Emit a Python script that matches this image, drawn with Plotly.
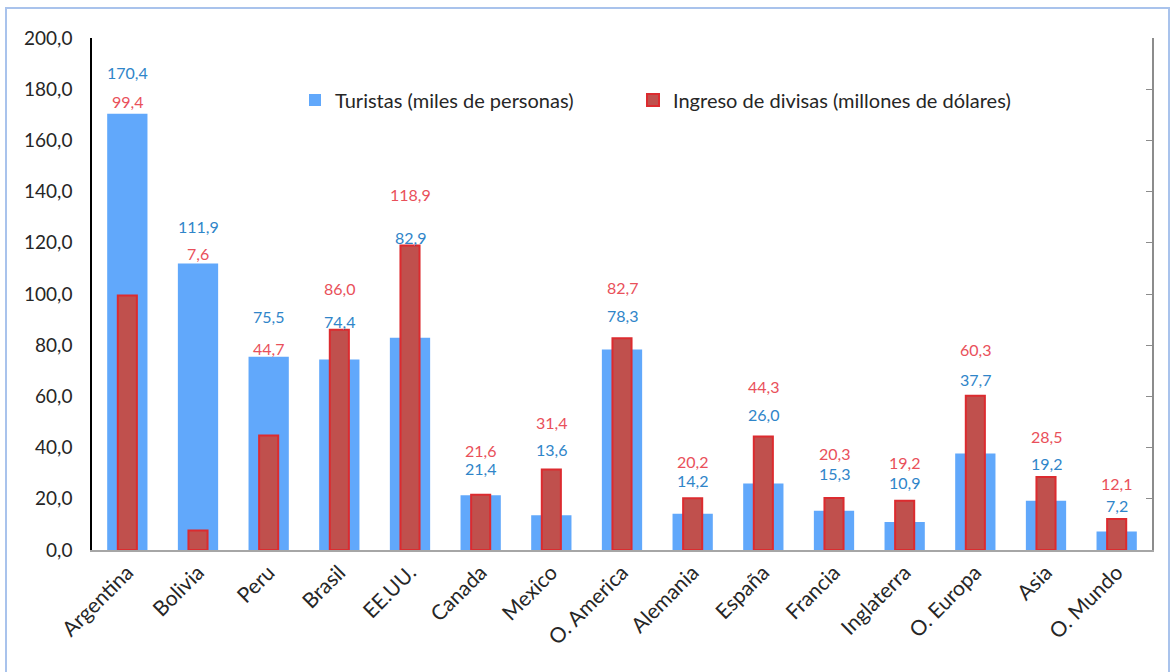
import plotly.graph_objects as go

categories = ["Argentina", "Bolivia", "Peru", "Brasil", "EE.UU.", "Canada", "Mexico",
              "O. America", "Alemania", "España", "Francia", "Inglaterra", "O. Europa",
              "Asia", "O. Mundo"]
turistas = [170.4, 111.9, 75.5, 74.4, 82.9, 21.4, 13.6, 78.3, 14.2, 26.0, 15.3, 10.9, 37.7, 19.2, 7.2]
divisas = [99.4, 7.6, 44.7, 86.0, 118.9, 21.6, 31.4, 82.7, 20.2, 44.3, 20.3, 19.2, 60.3, 28.5, 12.1]

# label placement (pixels above the taller bar of each category)
shift_upper = [41, 37, 40, 41, 51, 44, 47, 51, 37, 50, 45, 38, 46, 41, 36]
shift_lower = [12, 10, 8, 8, 8, 26, 20, 23, 18, 22, 25, 18, 16, 14, 14]

BLUE = "#61a8fb"
RED_FILL = "#c0504d"
RED_LINE = "#dc2b2f"
BLUE_TXT = "#2f85c9"
RED_TXT = "#e9505a"
FONT = "Lato"
TXT = "#262626"

fig = go.Figure()
fig.add_trace(go.Bar(
    x=categories, y=turistas, name="Turistas (miles de personas)",
    marker=dict(color=BLUE, line=dict(width=0)), width=0.57, legend="legend",
))
fig.add_trace(go.Bar(
    x=categories, y=divisas, name="Ingreso de divisas (millones de dólares)",
    marker=dict(color=RED_FILL, line=dict(color=RED_LINE, width=2)), width=0.27,
    legend="legend2",
))
# invisible trace to activate the right axis
fig.add_trace(go.Scatter(x=[categories[0]], y=[0], yaxis="y2", mode="markers",
                         marker=dict(opacity=0), showlegend=False, hoverinfo="skip"))

annotations = []
for i, c in enumerate(categories):
    t, d = turistas[i], divisas[i]
    top = max(t, d)
    if t >= d:
        up_val, up_col, lo_val, lo_col = t, BLUE_TXT, d, RED_TXT
    else:
        up_val, up_col, lo_val, lo_col = d, RED_TXT, t, BLUE_TXT
    for val, col, sh in ((up_val, up_col, shift_upper[i]), (lo_val, lo_col, shift_lower[i])):
        annotations.append(dict(
            x=c, y=top, xref="x", yref="y", text=f"{val:.1f}".replace(".", ","),
            showarrow=False, yshift=sh, yanchor="middle", xanchor="center",
            font=dict(family=FONT, size=16, color=col),
        ))

legend_common = dict(
    orientation="h", xanchor="left", y=(550 - 100) / 512, yanchor="middle",
    bgcolor="rgba(0,0,0,0)", font=dict(family=FONT, size=20, color=TXT), itemwidth=30,
)

fig.update_layout(
    width=1171, height=672,
    paper_bgcolor="white", plot_bgcolor="white",
    margin=dict(l=92, r=19, t=38, b=122),
    barmode="overlay",
    separators=",.",
    font=dict(family=FONT, size=19, color=TXT),
    showlegend=True,
    legend=dict(x=(295 - 92) / 1060, **legend_common),
    legend2=dict(x=(633 - 92) / 1060, **legend_common),
    xaxis=dict(
        range=[-0.5, len(categories) - 0.5], automargin=False,
        showgrid=False, showline=True, linecolor="#a6a6a6", linewidth=2,
        tickangle=-45, ticks="", tickfont=dict(family=FONT, size=21, color=TXT),
    ),
    yaxis=dict(
        range=[0, 200], dtick=20, tickformat=".1f", showgrid=False, zeroline=False,
        automargin=False, showline=True, linecolor="black", linewidth=1.5, ticks="",
        ticklabelstandoff=14, tickfont=dict(family=FONT, size=19, color=TXT),
    ),
    yaxis2=dict(
        range=[0, 200], dtick=20, overlaying="y", side="right", showgrid=False,
        automargin=False, zeroline=False, showline=True, linecolor="#8c8c8c", linewidth=1.5,
        ticks="inside", ticklen=6, tickcolor="#8c8c8c", showticklabels=False,
    ),
    annotations=annotations,
    shapes=[dict(
        type="rect", xref="paper", yref="paper",
        x0=(6 - 92) / 1060, x1=(1169 - 92) / 1060,
        y0=(550 - 690) / 512, y1=(550 - 8) / 512,
        line=dict(color="#a9c3ec", width=2), fillcolor="rgba(0,0,0,0)", layer="below",
    )],
)

fig.write_html("out.html")
